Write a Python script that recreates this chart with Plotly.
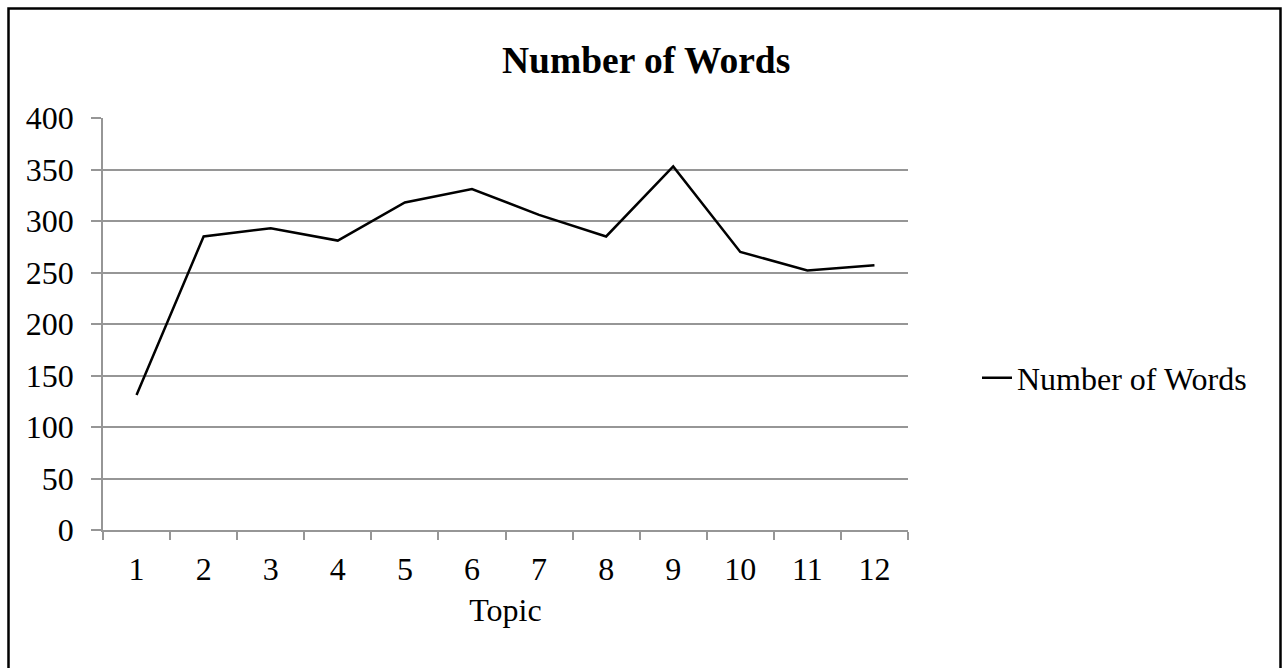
import plotly.graph_objects as go

# Word counts per topic
topics = ["1", "2", "3", "4", "5", "6", "7", "8", "9", "10", "11", "12"]
word_counts = [131, 285, 293, 281, 318, 331, 306, 285, 353, 270, 252, 257]
y_ticks = [0, 50, 100, 150, 200, 250, 300, 350, 400]

W, H = 1282, 668
L, R, T, B = 103, 908, 118, 530  # plot-area pixel box
pw, ph = R - L, B - T


def px(x):
    return (x - L) / pw


def py(y):
    return (B - y) / ph


serif = "Liberation Serif, Times New Roman, serif"
grey = "#969696"
fs = 32

fig = go.Figure()
fig.add_trace(go.Scatter(
    x=topics, y=word_counts, mode="lines", name="Number of Words",
    line=dict(color="black", width=2.5),
))

fig.update_layout(
    width=W, height=H,
    margin=dict(l=L, r=W - R, t=T, b=H - B, autoexpand=False),
    paper_bgcolor="white", plot_bgcolor="white",
    font=dict(family=serif, size=fs, color="black"),
    showlegend=True,
    legend=dict(
        x=px(977), y=py(378), xanchor="left", yanchor="middle",
        font=dict(family=serif, size=fs, color="black"),
        bgcolor="rgba(0,0,0,0)", itemwidth=30,
    ),
    xaxis=dict(
        type="category", range=[-0.5, 11.5],
        showline=True, linecolor=grey, linewidth=1.5,
        ticks="outside", tickson="boundaries", ticklen=8, tickcolor=grey, tickwidth=1.5,
        showgrid=False, zeroline=False,
        tickfont=dict(family=serif, size=fs),
        ticklabelstandoff=10,
        title=dict(text="Topic", font=dict(family=serif, size=fs), standoff=12),
        fixedrange=True,
    ),
    yaxis=dict(
        range=[0, 400], tickvals=y_ticks,
        showline=True, linecolor=grey, linewidth=1.5,
        ticks="outside", ticklen=10, tickcolor=grey, tickwidth=1.5,
        showgrid=True, gridcolor=grey, gridwidth=1.5, zeroline=False,
        tickfont=dict(family=serif, size=fs),
        ticklabelstandoff=11,
        fixedrange=True,
    ),
    annotations=[dict(
        text="<b>Number of Words</b>", xref="paper", yref="paper",
        x=px(645.5), y=py(60), xanchor="center", yanchor="middle",
        showarrow=False, font=dict(family=serif, size=37.5, color="black"),
    )],
    shapes=[dict(
        type="rect", xref="paper", yref="paper",
        x0=px(8.5), x1=px(1280.5), y0=py(680), y1=py(8.5),
        line=dict(color="black", width=2.5), fillcolor="rgba(0,0,0,0)",
        layer="above",
    )],
)

fig.write_html("out.html", config={"displayModeBar": False})
